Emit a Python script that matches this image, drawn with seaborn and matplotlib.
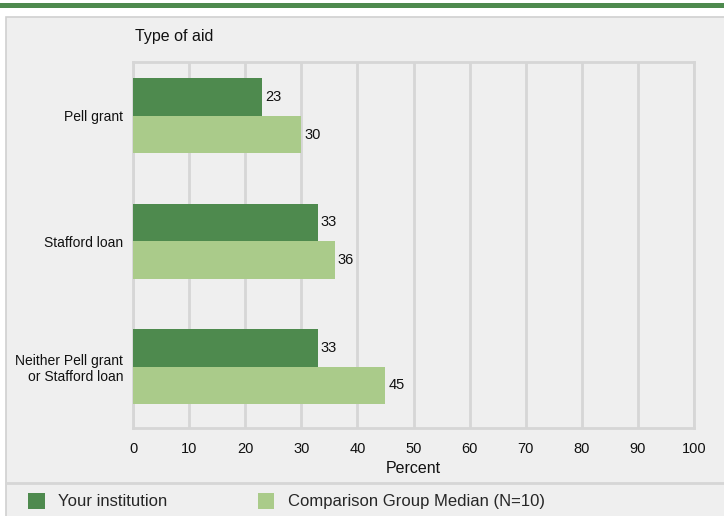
import matplotlib
matplotlib.use("Agg")
import matplotlib.pyplot as plt
from matplotlib.patches import Rectangle, Patch
from matplotlib.lines import Line2D
import seaborn as sns
import pandas as pd

categories = ["Pell grant", "Stafford loan", "Neither Pell grant\nor Stafford loan"]
series_names = ["Your institution", "Comparison Group Median (N=10)"]
your_institution = [23, 33, 33]
comparison_median = [30, 36, 45]
x_ticks = [0, 10, 20, 30, 40, 50, 60, 70, 80, 90, 100]

DARK = "#4e8a4e"
LIGHT = "#aacb8a"
PANEL = "#efefef"
GRID = "#d6d6d6"

sns.set_theme(style="white")
plt.rcParams["font.family"] = ["Liberation Sans", "DejaVu Sans"]

df = pd.DataFrame({
    "Type of aid": categories * 2,
    "Percent": your_institution + comparison_median,
    "Series": [series_names[0]] * 3 + [series_names[1]] * 3,
})

fig = plt.figure(figsize=(7.24, 5.16), dpi=100)
fig.patch.set_facecolor("white")

# top green band
fig.patches.append(Rectangle((0, 1 - 8 / 516), 1, 5 / 516, transform=fig.transFigure,
                             facecolor=DARK, edgecolor="none", zorder=-2))
# panel background
fig.patches.append(Rectangle((6 / 724, -0.01), 1 - 6 / 724 + 0.01, 1 - 17 / 516 + 0.01,
                             transform=fig.transFigure, facecolor=PANEL,
                             edgecolor="#d0d0d0", linewidth=1.2, zorder=-2))
# legend separator
fig.lines.append(Line2D([6 / 724, 1], [1 - 483 / 516] * 2, transform=fig.transFigure,
                        color="#d6d6d6", linewidth=2, zorder=-1))

ax = fig.add_axes([133 / 724, 1 - 428 / 516, (694 - 133) / 724, (428 - 62) / 516])
ax.set_zorder(1)
ax.set_facecolor(PANEL)

sns.barplot(data=df, y="Type of aid", x="Percent", hue="Series", orient="h",
            palette=[DARK, LIGHT], width=0.6, ax=ax, legend=False, zorder=3,
            saturation=1, linewidth=0, edgecolor="none", err_kws={"linewidth": 0})

for cont in ax.containers:
    ax.bar_label(cont, padding=2, fontsize=10.5, color="#111111")

ax.set_xlim(0, 100)
ax.set_ylim(2.49, -0.43)
ax.set_xticks(x_ticks)
ax.set_xticklabels([str(t) for t in x_ticks], fontsize=10.5, color="#111111")
ax.tick_params(axis="y", labelsize=10, colors="#111111", length=0, pad=7)
ax.tick_params(axis="x", length=4, width=2, color=GRID, pad=6)
for lbl in ax.get_yticklabels():
    lbl.set_horizontalalignment("right")
    lbl.set_multialignment("right")
ax.grid(axis="x", color=GRID, linewidth=2, zorder=0)
ax.set_axisbelow(True)
for s in ax.spines.values():
    s.set_color(GRID)
    s.set_linewidth(2)
ax.set_ylabel("")
ax.set_xlabel("Percent", fontsize=11.5, color="#111111", labelpad=4)

fig.text(135 / 724, 1 - 37 / 516, "Type of aid", fontsize=11.5, color="#111111",
         ha="left", va="center")

handles = [Patch(facecolor=DARK, edgecolor="none"), Patch(facecolor=LIGHT, edgecolor="none")]
fig.legend(handles, series_names, loc="center left",
           bbox_to_anchor=(28 / 724, 1 - 501 / 516), ncol=2, frameon=False,
           fontsize=12, handlelength=1.0, handleheight=1.1, handletextpad=0.8,
           columnspacing=5.42, borderaxespad=0, borderpad=0)

fig.savefig("out.png", dpi=100, facecolor="white")
